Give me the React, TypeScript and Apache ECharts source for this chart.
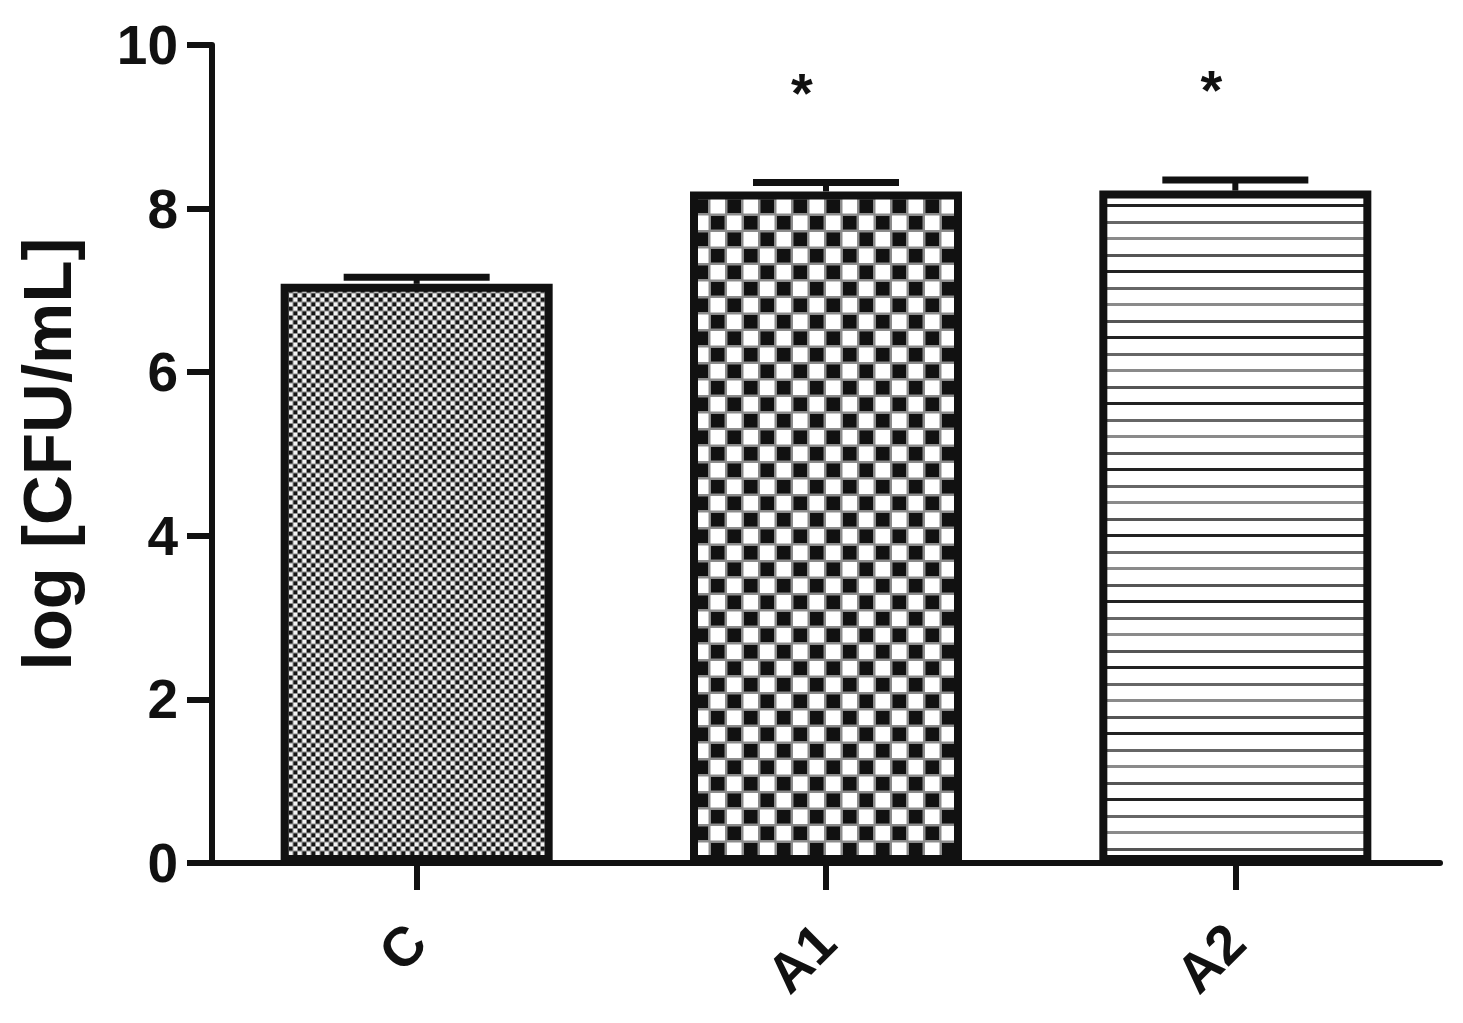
import React, { useEffect, useRef } from "react";
import * as echarts from "echarts";

const categories = ["C", "A1", "A2"];
const means = [7.08, 8.21, 8.22];
const sems = [0.08, 0.11, 0.13];
const sigMarks = ["", "*", "*"];
const yTicks = { min: 0, max: 10, interval: 2 };
const yTitle = "log [CFU/mL]";

const FONT = "'Liberation Sans', Arial, sans-serif";

function makeFineChecker(): HTMLCanvasElement {
  const c = document.createElement("canvas");
  c.width = 9;
  c.height = 9;
  const g = c.getContext("2d")!;
  g.fillStyle = "#8f8f8f";
  g.fillRect(0, 0, 9, 9);
  g.fillStyle = "#141414";
  g.fillRect(1, 1, 3.5, 3.5);
  g.fillRect(5.5, 5.5, 3.5, 3.5);
  g.fillStyle = "#f2f2f2";
  g.fillRect(5.5, 1, 3.5, 3.5);
  g.fillRect(1, 5.5, 3.5, 3.5);
  return c;
}

function makeBigChecker(): HTMLCanvasElement {
  const s = 33;
  const h = 16.5;
  const c = document.createElement("canvas");
  c.width = s;
  c.height = s;
  const g = c.getContext("2d")!;
  g.fillStyle = "#8c8c8c";
  g.fillRect(0, 0, s, s);
  g.fillStyle = "#111";
  g.fillRect(1.5, 1.5, h - 3, h - 3);
  g.fillRect(h + 1.5, h + 1.5, h - 3, h - 3);
  g.fillStyle = "#fff";
  g.fillRect(h + 1, 1, h - 2, h - 2);
  g.fillRect(1, h + 1, h - 2, h - 2);
  return c;
}

function makeStripes(): HTMLCanvasElement {
  const p = 16.5;
  const c = document.createElement("canvas");
  c.width = 8;
  c.height = 66;
  const g = c.getContext("2d")!;
  g.fillStyle = "#ffffff";
  g.fillRect(0, 0, 8, 66);
  const shades = ["#222", "#666", "#8a8a8a", "#555"];
  shades.forEach((col, i) => {
    g.fillStyle = col;
    g.fillRect(0, Math.round(i * p + 6), 8, 3);
  });
  return c;
}

export default function App() {
  const ref = useRef<HTMLDivElement>(null);

  useEffect(() => {
    if (!ref.current) return;
    const chart = echarts.init(ref.current, null, { renderer: "svg" });
    const patterns = [makeFineChecker(), makeBigChecker(), makeStripes()];

    const barData = means.map((v, i) => ({
      value: v,
      itemStyle: {
        color: {
          image: patterns[i],
          repeat: "repeat",
          imageWidth: patterns[i].width,
          imageHeight: patterns[i].height,
        },
      },
    }));

    const errData = means.map((v, i) => [i, v, sems[i]]);
    const sigData = means.map((v, i) => [i, v + sems[i], sigMarks[i]]);

    const option: any = {
      animation: false,
      backgroundColor: "#ffffff",
      grid: { left: 212, right: 23, top: 45, bottom: 160, containLabel: false },
      xAxis: {
        type: "category",
        data: categories,
        boundaryGap: true,
        axisLine: { show: true, lineStyle: { color: "#111", width: 6 } },
        axisTick: { show: true, alignWithLabel: true, length: 27, lineStyle: { color: "#111", width: 6 } },
        axisLabel: {
          rotate: 45,
          margin: 70,
          color: "#111",
          fontSize: 55,
          fontWeight: "bold",
          fontFamily: FONT,
        },
        splitLine: { show: false },
      },
      yAxis: {
        type: "value",
        min: yTicks.min,
        max: yTicks.max,
        interval: yTicks.interval,
        name: yTitle,
        nameLocation: "middle",
        nameGap: 130,
        nameTextStyle: { color: "#111", fontSize: 69, fontWeight: "bold", fontFamily: FONT },
        axisLine: { show: true, lineStyle: { color: "#111", width: 6 } },
        axisTick: { show: true, length: 25, lineStyle: { color: "#111", width: 6 } },
        axisLabel: { margin: 34, color: "#111", fontSize: 55, fontWeight: "bold", fontFamily: FONT },
        splitLine: { show: false },
      },
      series: [
        {
          type: "bar",
          data: barData,
          barWidth: 272,
          itemStyle: { borderColor: "#111", borderWidth: 8 },
          z: 1,
        },
        {
          type: "custom",
          data: errData,
          z: 3,
          renderItem: (params: any, api: any) => {
            const i = api.value(0);
            const m = api.value(1);
            const e = api.value(2);
            const top = api.coord([i, m + e]);
            const base = api.coord([i, m]);
            const half = 73;
            return {
              type: "group",
              children: [
                {
                  type: "line",
                  shape: { x1: top[0], y1: top[1], x2: base[0], y2: base[1] },
                  style: { stroke: "#111", lineWidth: 6 },
                },
                {
                  type: "line",
                  shape: { x1: top[0] - half, y1: top[1], x2: top[0] + half, y2: top[1] },
                  style: { stroke: "#111", lineWidth: 7 },
                },
              ],
            };
          },
        },
        {
          type: "custom",
          data: sigData,
          z: 4,
          renderItem: (params: any, api: any) => {
            const i = api.value(0);
            const y = api.value(1);
            const mark = sigMarks[params.dataIndex];
            const p = api.coord([i, y]);
            return {
              type: "text",
              x: p[0] - 24,
              y: p[1] - 90,
              style: {
                text: mark,
                fill: "#111",
                font: `bold 56px ${FONT}`,
                align: "center",
                verticalAlign: "middle",
              },
            };
          },
        },
      ],
    };
    chart.setOption(option);
    return () => chart.dispose();
  }, []);

  return (
    <div
      ref={ref}
      style={{ position: "absolute", left: 0, top: 0, width: 1463, height: 1023, background: "#fff" }}
    />
  );
}
